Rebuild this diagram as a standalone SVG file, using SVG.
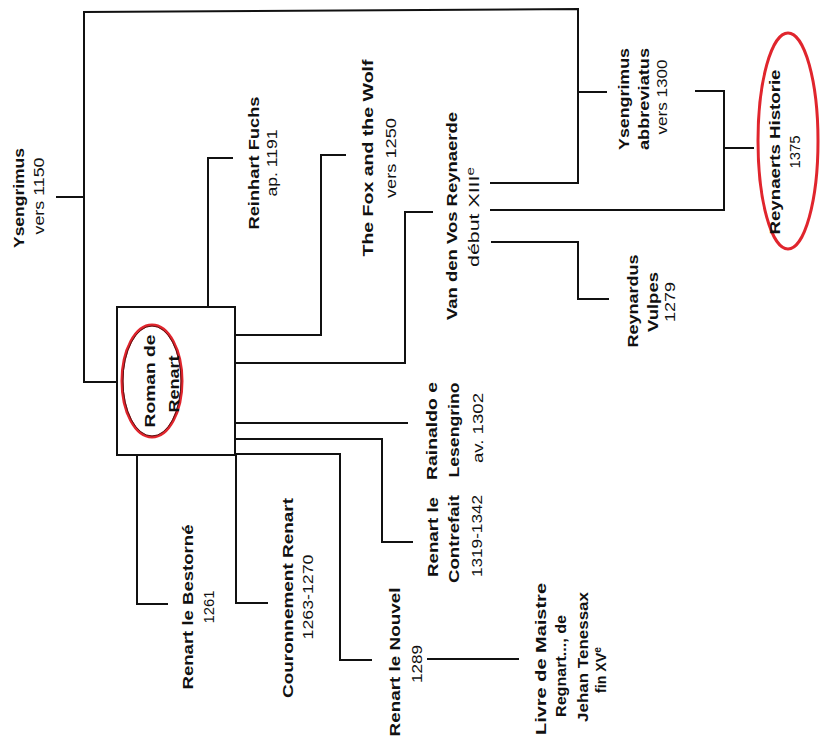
<svg xmlns="http://www.w3.org/2000/svg" width="820" height="745" viewBox="0 0 820 745">
<style>
.t{font-family:"Liberation Sans Narrow","Liberation Sans","DejaVu Sans",sans-serif;font-size:14px;font-weight:bold;fill:#111;}
.d{font-weight:normal;}
.c{fill:none;stroke:#111;stroke-width:2;stroke-linecap:square;}
.box{fill:#fff;stroke:#111;stroke-width:2;}
.red{fill:none;stroke:#e0252d;stroke-width:3;}
.redcore{fill:none;stroke:#5a1414;stroke-width:1;}
</style>
<rect width="820" height="745" fill="#fff"/>
<g id="connectors">
<path class="c" d="M57,197 H83"/>
<path class="c" d="M117,382 H84 V12 L578,9 V183 H491"/>
<path class="c" d="M578,92 H606"/>
<path class="c" d="M696,91 H724 V210 H491"/>
<path class="c" d="M724,148 H753"/>
<path class="c" d="M492,242 H578 V299 H608"/>
<path class="c" d="M232,158 H208 V307"/>
<path class="c" d="M345,155 H321 V335 H235"/>
<path class="c" d="M432,212 H405 V363 H235"/>
<path class="c" d="M235,423 H407"/>
<path class="c" d="M235,439 H382 V542 H412"/>
<path class="c" d="M235,454 H340 V660 H371"/>
<path class="c" d="M137,455 V604 H167"/>
<path class="c" d="M236,455 V603 H267"/>
<path class="c" d="M428,659 H518"/>
</g>
<g id="n-ysengrimus">
<text class="t" transform="translate(24,198) rotate(-90)" text-anchor="middle" textLength="100" lengthAdjust="spacingAndGlyphs">Ysengrimus</text>
<text class="t d" transform="translate(44,196) rotate(-90)" text-anchor="middle" textLength="77" lengthAdjust="spacingAndGlyphs">vers 1150</text>
</g>
<g id="n-reinhart">
<text class="t" transform="translate(259,163) rotate(-90)" text-anchor="middle" textLength="133" lengthAdjust="spacingAndGlyphs">Reinhart Fuchs</text>
<text class="t d" transform="translate(277,163) rotate(-90)" text-anchor="middle" textLength="67" lengthAdjust="spacingAndGlyphs">ap. 1191</text>
</g>
<g id="n-fox">
<text class="t" transform="translate(373,158) rotate(-90)" text-anchor="middle" textLength="197" lengthAdjust="spacingAndGlyphs">The Fox and the Wolf</text>
<text class="t d" transform="translate(396,158) rotate(-90)" text-anchor="middle" textLength="80" lengthAdjust="spacingAndGlyphs">vers 1250</text>
</g>
<g id="n-vandenvos">
<text class="t" transform="translate(457,216) rotate(-90)" text-anchor="middle" textLength="208" lengthAdjust="spacingAndGlyphs">Van den Vos Reynaerde</text>
<text class="t d" transform="translate(479,217) rotate(-90)" text-anchor="middle" textLength="100" lengthAdjust="spacingAndGlyphs">début XIII<tspan font-size="10" baseline-shift="super">e</tspan></text>
</g>
<g id="n-abbreviatus">
<text class="t" transform="translate(629,99) rotate(-90)" text-anchor="middle" textLength="102" lengthAdjust="spacingAndGlyphs">Ysengrimus</text>
<text class="t" transform="translate(649,99) rotate(-90)" text-anchor="middle" textLength="102" lengthAdjust="spacingAndGlyphs">abbreviatus</text>
<text class="t d" transform="translate(667,97) rotate(-90)" text-anchor="middle" textLength="75" lengthAdjust="spacingAndGlyphs">vers 1300</text>
</g>
<g id="n-historie">
<ellipse class="red" cx="788" cy="141" rx="30" ry="108"/>
<text class="t" transform="translate(780,152) rotate(-90)" text-anchor="middle" textLength="165" lengthAdjust="spacingAndGlyphs">Reynaerts Historie</text>
<text class="t d" transform="translate(800,152) rotate(-90)" text-anchor="middle" textLength="33" lengthAdjust="spacingAndGlyphs">1375</text>
</g>
<g id="n-reynardus">
<text class="t" transform="translate(638,301) rotate(-90)" text-anchor="middle" textLength="93" lengthAdjust="spacingAndGlyphs">Reynardus</text>
<text class="t" transform="translate(658,302) rotate(-90)" text-anchor="middle" textLength="60" lengthAdjust="spacingAndGlyphs">Vulpes</text>
<text class="t d" transform="translate(675,302) rotate(-90)" text-anchor="middle" textLength="40" lengthAdjust="spacingAndGlyphs">1279</text>
</g>
<g id="n-roman">
<rect class="box" x="117" y="307" width="118" height="148"/>
<ellipse class="red" cx="152" cy="381" rx="30" ry="56"/>
<ellipse class="redcore" cx="152" cy="381" rx="29" ry="55"/>
<text class="t" transform="translate(155,381) rotate(-90)" text-anchor="middle" textLength="93" lengthAdjust="spacingAndGlyphs">Roman de</text>
<text class="t" transform="translate(179,384) rotate(-90)" text-anchor="middle" textLength="57" lengthAdjust="spacingAndGlyphs">Renart</text>
</g>
<g id="n-rainaldo">
<text class="t" transform="translate(437,431) rotate(-90)" text-anchor="middle" textLength="98" lengthAdjust="spacingAndGlyphs">Rainaldo e</text>
<text class="t" transform="translate(459,430) rotate(-90)" text-anchor="middle" textLength="95" lengthAdjust="spacingAndGlyphs">Lesengrino</text>
<text class="t d" transform="translate(483,428) rotate(-90)" text-anchor="middle" textLength="70" lengthAdjust="spacingAndGlyphs">av. 1302</text>
</g>
<g id="n-contrefait">
<text class="t" transform="translate(438,537) rotate(-90)" text-anchor="middle" textLength="80" lengthAdjust="spacingAndGlyphs">Renart le</text>
<text class="t" transform="translate(459,539) rotate(-90)" text-anchor="middle" textLength="88" lengthAdjust="spacingAndGlyphs">Contrefait</text>
<text class="t d" transform="translate(482,536) rotate(-90)" text-anchor="middle" textLength="82" lengthAdjust="spacingAndGlyphs">1319-1342</text>
</g>
<g id="n-bestorne">
<text class="t" transform="translate(193,607) rotate(-90)" text-anchor="middle" textLength="165" lengthAdjust="spacingAndGlyphs">Renart le Bestorné</text>
<text class="t d" transform="translate(214,607) rotate(-90)" text-anchor="middle" textLength="33" lengthAdjust="spacingAndGlyphs">1261</text>
</g>
<g id="n-couronnement">
<text class="t" transform="translate(293,598) rotate(-90)" text-anchor="middle" textLength="200" lengthAdjust="spacingAndGlyphs">Couronnement Renart</text>
<text class="t d" transform="translate(313,597) rotate(-90)" text-anchor="middle" textLength="85" lengthAdjust="spacingAndGlyphs">1263-1270</text>
</g>
<g id="n-nouvel">
<text class="t" transform="translate(400,662) rotate(-90)" text-anchor="middle" textLength="149" lengthAdjust="spacingAndGlyphs">Renart le Nouvel</text>
<text class="t d" transform="translate(422,664) rotate(-90)" text-anchor="middle" textLength="38" lengthAdjust="spacingAndGlyphs">1289</text>
</g>
<g id="n-livre">
<text class="t" transform="translate(546,659) rotate(-90)" text-anchor="middle" textLength="152" lengthAdjust="spacingAndGlyphs">Livre de Maistre</text>
<text class="t" transform="translate(566,666) rotate(-90)" text-anchor="middle" textLength="102" lengthAdjust="spacingAndGlyphs">Regnart..., de</text>
<text class="t" transform="translate(588,657) rotate(-90)" text-anchor="middle" textLength="130" lengthAdjust="spacingAndGlyphs">Jehan Tenessax</text>
<text class="t" transform="translate(606,670) rotate(-90)" text-anchor="middle" textLength="46" lengthAdjust="spacingAndGlyphs">fin XV<tspan font-size="10" baseline-shift="super">e</tspan></text>
</g>
</svg>
